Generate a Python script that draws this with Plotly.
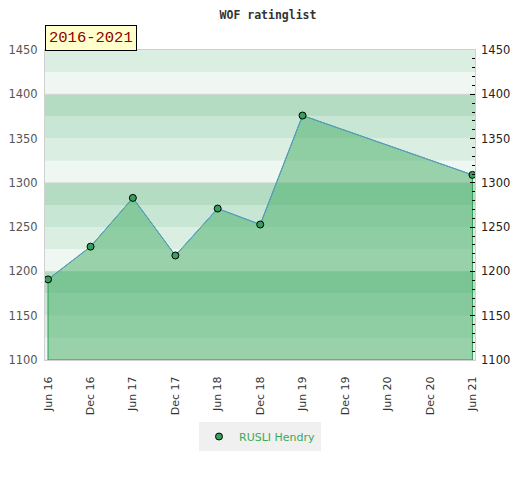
import plotly.graph_objects as go

# rating history
dates = ["2016-06-01", "2016-12-01", "2017-06-01", "2017-12-01",
         "2018-06-01", "2018-12-01", "2019-06-01", "2021-06-01"]
ratings = [1191, 1228, 1283, 1218, 1271, 1253, 1376, 1309]
player = "RUSLI Hendry"
period = "2016-2021"

y_min, y_max = 1100, 1450
band_colors = ["#eff7f2", "#dbeee2", "#c8e6d4", "#b3dcc3"]

fig = go.Figure()

# filled area, closed down to the bottom of the axis (green side edges)
fig.add_scatter(
  x=dates + [dates[-1], dates[0], dates[0]],
  y=ratings + [y_min, y_min, ratings[0]],
  mode="lines",
  fill="toself",
  fillcolor="rgba(67,171,100,0.5)",
  line=dict(color="#2f9e55", width=1),
  hoverinfo="skip",
  showlegend=False,
)
fig.add_scatter(x=dates, y=ratings, mode="lines",
                line=dict(color="#5b9bd5", width=1), showlegend=False)
fig.add_scatter(
  x=dates, y=ratings,
  mode="markers",
  name=player,
  marker=dict(color="#35a05c", size=7, line=dict(color="black", width=1)),
)
# invisible trace so the right axis gets drawn
fig.add_scatter(x=dates, y=ratings, yaxis="y2", mode="lines",
                line=dict(width=0), hoverinfo="skip", showlegend=False)

shapes = []
for lo in range(y_min, y_max, 25):
  shapes.append(dict(type="rect", xref="paper", yref="y", x0=0, x1=1,
                     y0=lo, y1=lo + 25, fillcolor=band_colors[(lo // 25) % 4],
                     line_width=0, layer="below"))
for v in range(y_min, y_max + 1, 100):
  shapes.append(dict(type="line", xref="paper", yref="y", x0=0, x1=1,
                     y0=v, y1=v, line=dict(color="#d4d4d4", width=1), layer="below"))

# page body has an 8px margin, so the figure is shifted by that much
fig.update_layout(
  width=520, height=480,
  margin=dict(l=37, r=53, t=42, b=128, autoexpand=False),
  paper_bgcolor="white",
  plot_bgcolor="white",
  shapes=shapes,
  title=dict(text="WOF ratinglist", x=0.5, xanchor="center", y=0.994, yanchor="top",
             font=dict(family="DejaVu Sans Mono", size=11.5, color="#333", weight="bold")),
  font=dict(family="DejaVu Sans", size=11, color="#333"),
  xaxis=dict(
    type="date",
    range=["2016-05-19", "2021-06-12"],
    tick0="2016-06-01", dtick="M6", tickformat="%b %y",
    tickangle=-90, showgrid=False, zeroline=False,
    showline=True, linecolor="#d0d0d0", mirror=True,
    ticks="", ticklabelstandoff=11,
  ),
  yaxis=dict(
    range=[y_min, y_max], dtick=50, showgrid=False, zeroline=False,
    showline=True, linecolor="#d0d0d0", mirror=True, ticks="",
    ticklabelstandoff=4,
    tickfont=dict(size=11.5, color="#555"),
  ),
  yaxis2=dict(
    range=[y_min, y_max], dtick=50, overlaying="y", side="right",
    showgrid=False, zeroline=False,
    ticks="inside", ticklen=5, tickcolor="black",
    minor=dict(dtick=10, ticks="inside", ticklen=3, tickcolor="black"),
    ticklabelstandoff=5,
    tickfont=dict(size=11.5, color="#222"),
  ),
  legend=dict(
    orientation="h", x=0.5, xanchor="center", y=-0.2, yanchor="top",
    bgcolor="#f0f0f0", font=dict(color="#3aaa5a", size=11),
  ),
  annotations=[dict(
    text=period, xref="paper", yref="paper", x=0, y=1,
    xanchor="left", yanchor="bottom", showarrow=False, yshift=-1,
    font=dict(family="Liberation Mono", size=15.5, color="#8b0000"),
    bgcolor="#ffffcc", bordercolor="black", borderwidth=1, borderpad=3,
  )],
)

fig.write_html("out.html")
